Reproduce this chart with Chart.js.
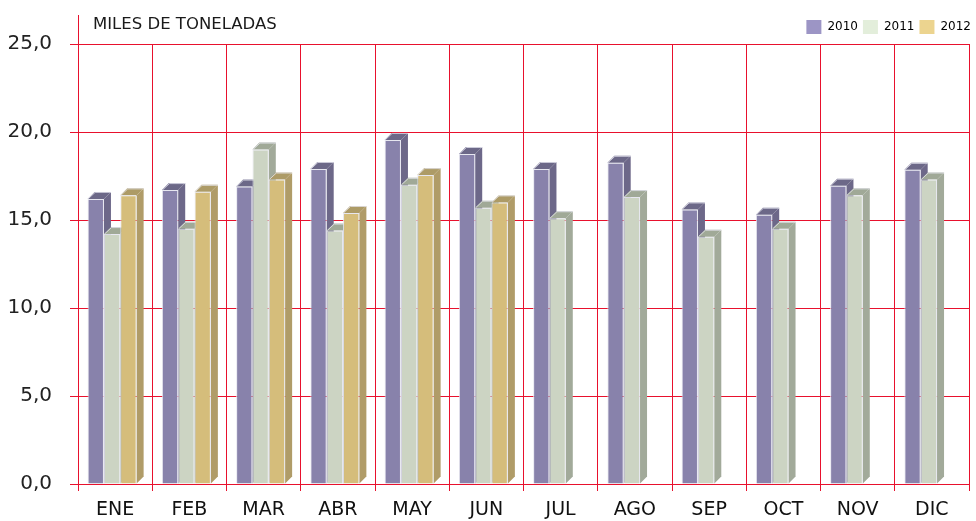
<!DOCTYPE html>
<html><head><meta charset="utf-8">
<script src="https://cdn.jsdelivr.net/npm/chart.js@4.4.1/dist/chart.umd.min.js"></script>
<style>html,body{margin:0;padding:0;background:#fff}#wrap{width:976px;height:521px}</style>
</head><body><div id="wrap"><canvas id="c" width="976" height="521"></canvas></div>
<script>
const categories = ['ENE','FEB','MAR','ABR','MAY','JUN','JUL','AGO','SEP','OCT','NOV','DIC'];
const seriesNames = ['2010','2011','2012'];
const values2010 = [16.2,16.7,16.9,17.9,19.55,18.75,17.9,18.25,15.6,15.3,16.95,17.85];
const values2011 = [14.2,14.5,19.0,14.4,17.0,15.7,15.1,16.3,14.05,14.5,16.4,17.3];
const values2012 = [16.4,16.6,17.3,15.4,17.55,16.0,null,null,null,null,null,null];
const yTicks = [0,5,10,15,20,25];
const titleText = 'MILES DE TONELADAS';

const FRONT = ['#8882ab','#ccd4c3','#d5bd7b'];
const SIDE  = ['#6d6889','#a2aa9a','#b09c68'];
const TOP   = ['#6c6888','#a0a997','#ad9b66'];
const LEG   = ['#9c95c5','#e3eedb','#ecd48f'];
const RED = '#e8112d';
const D = 7;

const bar3d = {
  id:'bar3d',
  beforeDatasetsDraw(chart){
    const ctx = chart.ctx;
    const metas = chart.data.datasets.map((_,i)=>chart.getDatasetMeta(i));
    ctx.save();
    ctx.translate(-3,0);
    for (let i=0;i<categories.length;i++){
      metas.forEach((meta,j)=>{
        const el = meta.data[i];
        const v = chart.data.datasets[j].data[i];
        if (!el || v==null) return;
        const l = el.x - el.width/2, r = el.x + el.width/2, t = el.y, b = el.base;
        ctx.fillStyle = SIDE[j];
        ctx.beginPath();
        ctx.moveTo(r,t); ctx.lineTo(r+D,t-D); ctx.lineTo(r+D,b-D); ctx.lineTo(r,b); ctx.closePath(); ctx.fill();
        ctx.fillStyle = TOP[j];
        ctx.beginPath();
        ctx.moveTo(l,t); ctx.lineTo(l+D,t-D); ctx.lineTo(r+D,t-D); ctx.lineTo(r,t); ctx.closePath(); ctx.fill();
        ctx.strokeStyle = 'rgba(230,230,240,0.8)'; ctx.lineWidth = 1;
        ctx.beginPath(); ctx.moveTo(l+0.5,t); ctx.lineTo(l+D+0.5,t-D+0.5); ctx.lineTo(r+D,t-D+0.5); ctx.stroke();
        el.draw(ctx, chart.chartArea);
      });
    }
    ctx.restore();
    return false;
  },
  afterDraw(chart){
    const ctx = chart.ctx, a = chart.chartArea;
    ctx.save();
    ctx.strokeStyle = RED; ctx.lineWidth = 1;
    ctx.beginPath(); ctx.moveTo(Math.round(a.left)+0.5, a.top); ctx.lineTo(Math.round(a.left)+0.5, 15); ctx.stroke();
    ctx.fillStyle = '#1a1a1a';
    ctx.font = '16.5px "DejaVu Sans"';
    ctx.textBaseline = 'middle';
    ctx.fillText(titleText, a.left + 15, 25);
    ctx.restore();
  }
};

const datasets = [values2010, values2011, values2012].map((d,j)=>({
  label: seriesNames[j], data: d, backgroundColor: FRONT[j],
  borderColor: 'rgba(228,228,238,0.9)', borderWidth: 1,
  categoryPercentage: 0.66, barPercentage: 1.0
}));

new Chart(document.getElementById('c'), {
  type:'bar',
  data:{labels:categories, datasets},
  plugins:[bar3d],
  options:{
    responsive:false, animation:false, devicePixelRatio:1,
    layout:{padding:{top:15,right:0,left:0,bottom:0}},
    plugins:{
      tooltip:{enabled:false},
      legend:{
        position:'top', align:'end',
        labels:{
          boxWidth:15, boxHeight:14, padding:5, color:'#222',
          font:{family:'DejaVu Sans', size:12},
          generateLabels(chart){
            return seriesNames.map((n,j)=>({text:n, fillStyle:LEG[j], strokeStyle:LEG[j], lineWidth:0, datasetIndex:j, hidden:false}));
          }
        }
      }
    },
    scales:{
      x:{
        grid:{color:RED, lineWidth:1, offset:true, tickLength:7, drawOnChartArea:true},
        border:{color:RED},
        ticks:{color:'#111', font:{family:'DejaVu Sans', size:19}, padding:8},
        afterFit(s){ s.height = 37; }
      },
      y:{
        min:0, max:25,
        afterBuildTicks(s){ s.ticks = yTicks.map(v=>({value:v})); },
        grid:{color:RED, lineWidth:1, tickLength:8},
        border:{color:RED},
        ticks:{color:'#222', font:{family:'DejaVu Sans', size:20}, padding:18,
          callback:v=>v.toFixed(1).replace('.',',')},
        afterFit(s){ s.width = 78; }
      },
      yRight:{
        position:'right', display:true, min:0, max:25,
        grid:{display:false, drawOnChartArea:false}, border:{display:false},
        ticks:{display:false},
        afterFit(s){ s.width = 7; }
      }
    }
  }
});
</script></body></html>
